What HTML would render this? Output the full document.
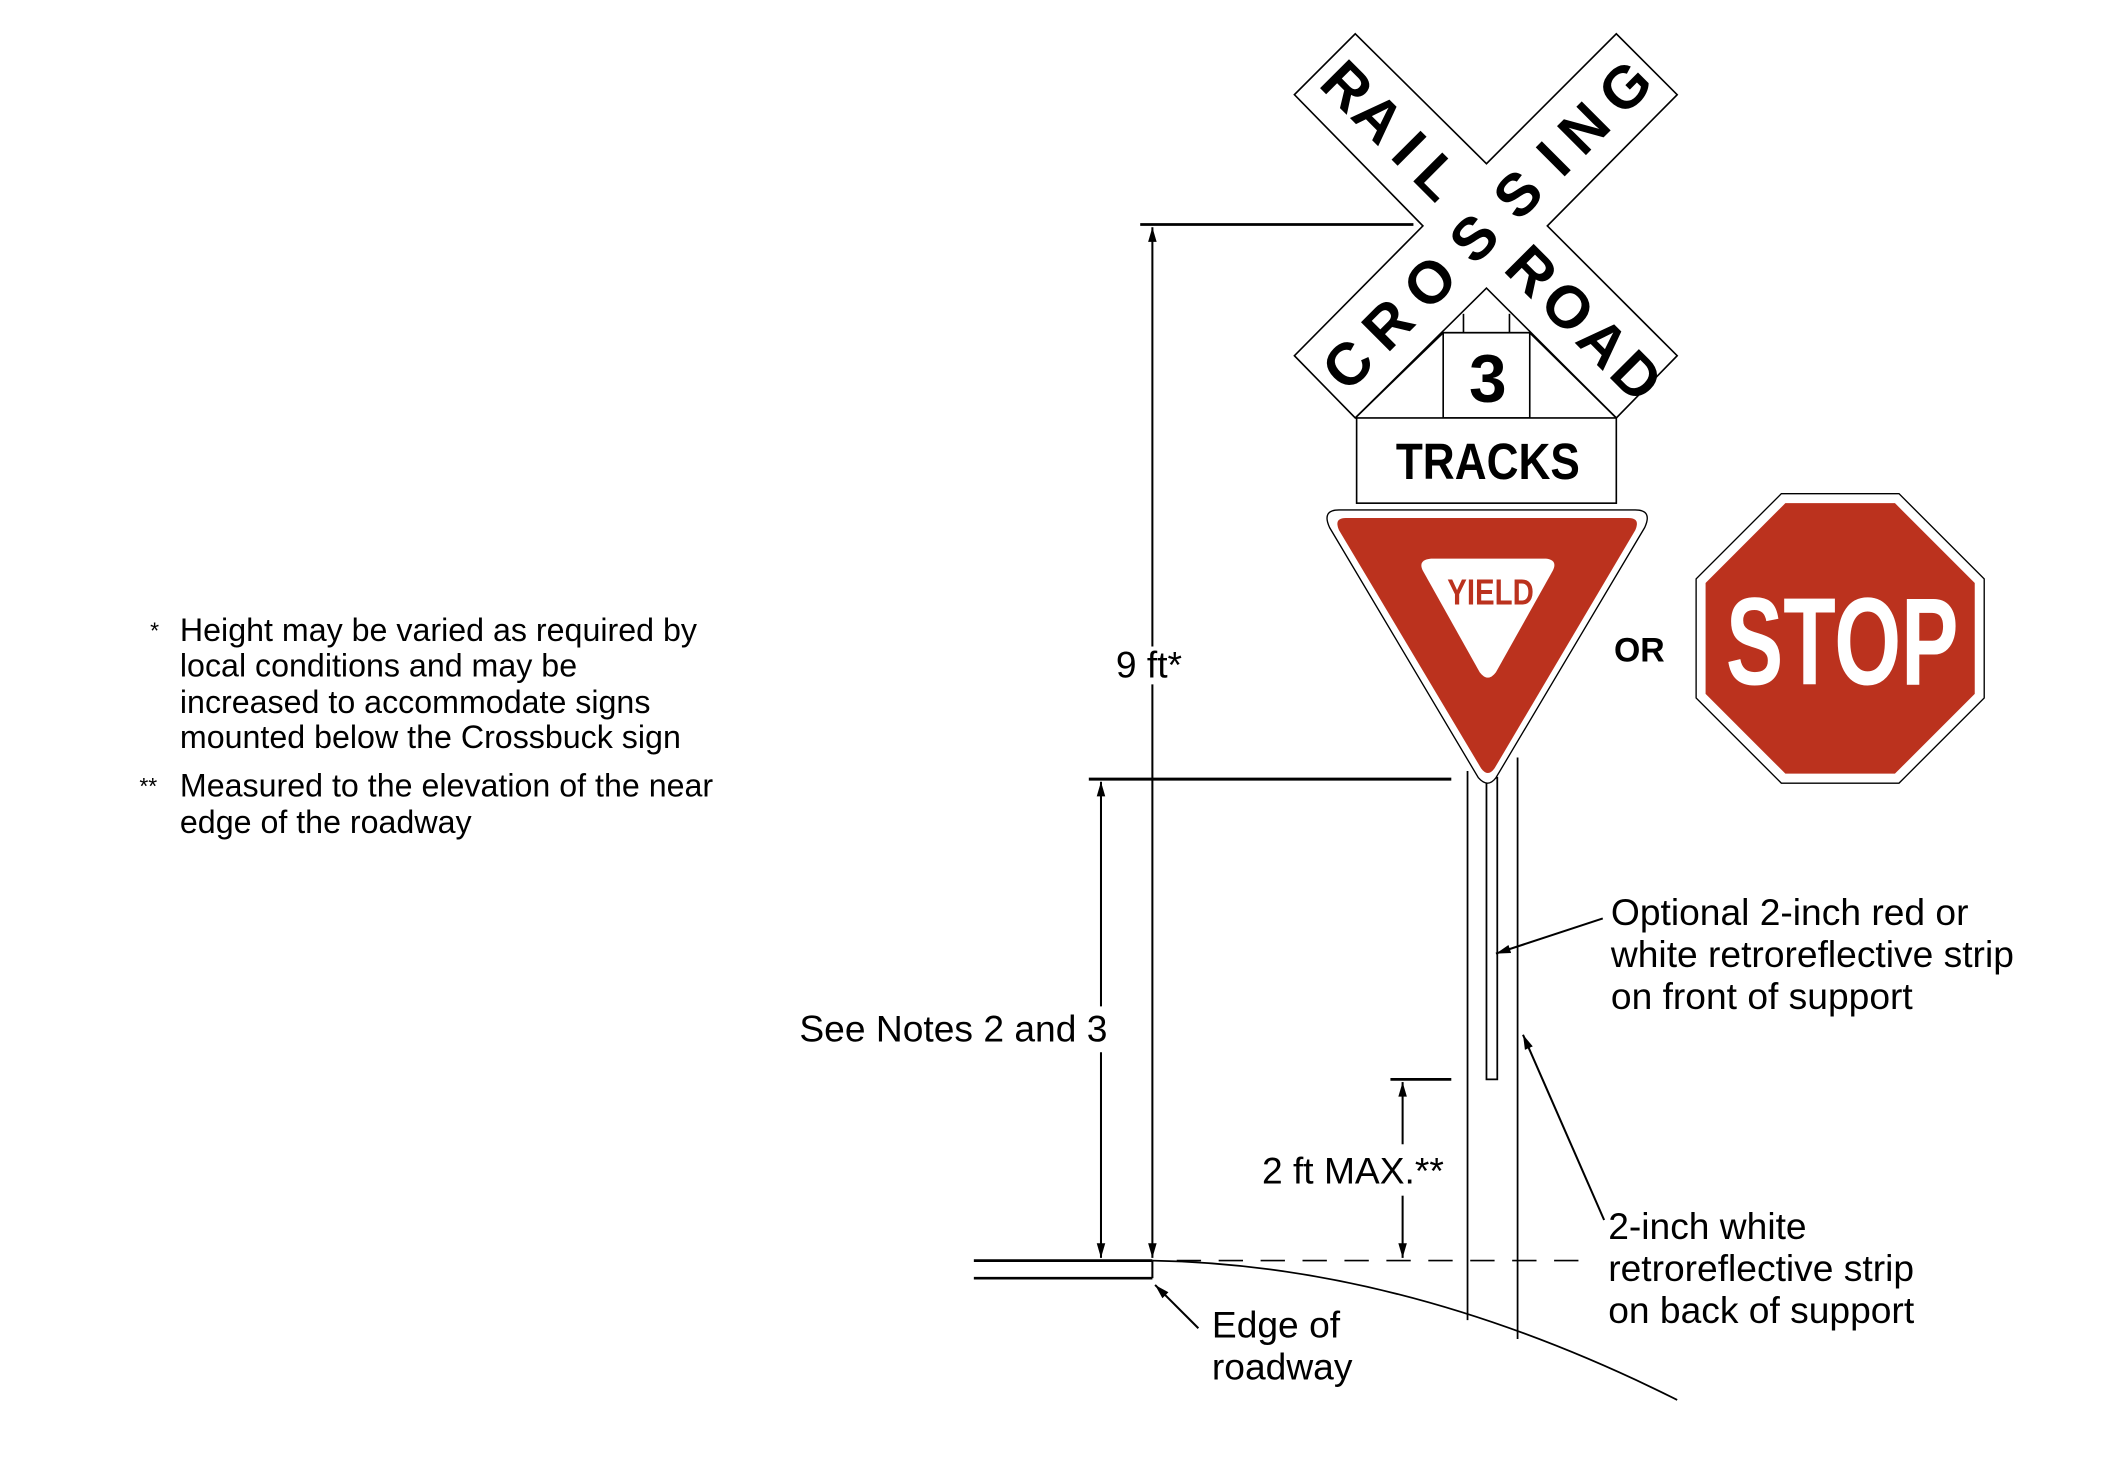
<!DOCTYPE html>
<html><head><meta charset="utf-8"><style>
html,body{margin:0;padding:0;background:#fff;}
svg{display:block;}
text{font-family:"Liberation Sans",sans-serif;}
</style></head><body>
<svg width="2110" height="1480" viewBox="0 0 1560 1094.2" xmlns="http://www.w3.org/2000/svg">
<defs>
<marker id="ar" viewBox="0 0 12 10" refX="12" refY="5" markerWidth="11" markerHeight="9" markerUnits="userSpaceOnUse" orient="auto"><path d="M0,1.5 L12,5 L0,8.5 z" fill="#000"/></marker>
</defs>
<rect width="1560" height="1094.2" fill="#fff"/>

<!-- notes -->
<g font-size="23.8" fill="#000">
<text x="111" y="472" font-size="17">*</text>
<text x="133" y="474">Height may be varied as required by</text>
<text x="133" y="500">local conditions and may be</text>
<text x="133" y="527">increased to accommodate signs</text>
<text x="133" y="553">mounted below the Crossbuck sign</text>
<text x="103" y="587" font-size="17">**</text>
<text x="133" y="589">Measured to the elevation of the near</text>
<text x="133" y="616">edge of the roadway</text>
</g>

<!-- posts -->
<g stroke="#000" stroke-width="1.3" fill="none">
<line x1="1085" y1="570" x2="1085" y2="976"/>
<line x1="1122" y1="560" x2="1122" y2="990"/>
<rect x="1099" y="575" width="8" height="223" fill="#fff"/>
</g>

<!-- crossbuck -->
<polygon points="1002,25 1099,121 1195,25 1240,70 1144,167 1240,263 1195,309 1099,213 1002,309 957,263 1052,167 957,70" fill="#fff" stroke="#000" stroke-width="1.2"/>
<g font-weight="bold" font-size="44" fill="#000" text-anchor="middle">
<g transform="translate(1099,167) rotate(45)">
<text x="-146" y="15">R</text><text x="-113" y="15">A</text><text x="-81" y="15">I</text><text x="-51" y="15">L</text>
<text x="47" y="15">R</text><text x="85" y="15">O</text><text x="122" y="15">A</text><text x="157" y="15">D</text>
</g>
<g transform="translate(1099,167) rotate(-45)">
<text x="-145" y="15">C</text><text x="-103" y="15">R</text><text x="-59" y="15">O</text><text x="-13" y="15">S</text>
<text x="33" y="15">S</text><text x="70" y="15">I</text><text x="102" y="15">N</text><text x="145" y="15">G</text>
</g>
</g>
<!-- small plate support -->
<g stroke="#000" stroke-width="1.2" fill="#fff">
<line x1="1082" y1="232" x2="1082" y2="246"/>
<line x1="1116" y1="232" x2="1116" y2="246"/>
<polyline points="1002,309 1067,246 1131,246 1195,309" fill="none"/>
<rect x="1067" y="246" width="64" height="63"/>
<rect x="1003" y="309" width="192" height="63"/>
</g>
<text x="1100" y="297" font-size="50" font-weight="bold" text-anchor="middle">3</text>
<text x="1100" y="354" font-size="38" font-weight="bold" text-anchor="middle" textLength="136" lengthAdjust="spacingAndGlyphs">TRACKS</text>

<!-- yield -->
<path d="M990,377 L1209,377 Q1222,377 1216,390 L1106,575 Q1100,583 1093,575 L983,390 Q977,377 990,377 z" fill="#fff" stroke="#000" stroke-width="1"/>
<path d="M995,383 L1204,383 Q1213,383 1209,392 L1105,568 Q1100,575 1095,568 L990,392 Q986,383 995,383 z" fill="#bb321e"/>
<path d="M1058,413 L1143,413 Q1152,414 1148,422 L1106,497 Q1100,505 1094,497 L1052,422 Q1048,414 1058,413 z" fill="#fff"/>
<text x="1102" y="447" font-size="27" font-weight="bold" fill="#bb321e" text-anchor="middle" textLength="64" lengthAdjust="spacingAndGlyphs">YIELD</text>

<text x="1212" y="489" font-size="25" font-weight="bold" text-anchor="middle">OR</text>

<!-- stop -->
<polygon points="1317,365 1404,365 1467,428 1467,516 1404,579 1317,579 1254,516 1254,428" fill="#fff" stroke="#000" stroke-width="1"/>
<polygon points="1320,372 1401,372 1460,431 1460,513 1401,572 1320,572 1261,513 1261,431" fill="#bb321e"/>
<text x="1362" y="506" font-size="92" font-weight="bold" fill="#fff" text-anchor="middle" textLength="172" lengthAdjust="spacingAndGlyphs">STOP</text>

<!-- dimension lines -->
<g stroke="#000" fill="none">
<line x1="843" y1="166" x2="1045" y2="166" stroke-width="2"/>
<line x1="852" y1="478" x2="852" y2="168" stroke-width="1.5" marker-end="url(#ar)"/>
<line x1="852" y1="506" x2="852" y2="930" stroke-width="1.5" marker-end="url(#ar)"/>
<line x1="805" y1="576" x2="1073" y2="576" stroke-width="2.2"/>
<line x1="814" y1="744" x2="814" y2="578" stroke-width="1.5" marker-end="url(#ar)"/>
<line x1="814" y1="778" x2="814" y2="930" stroke-width="1.5" marker-end="url(#ar)"/>
<line x1="1028" y1="798" x2="1073" y2="798" stroke-width="2"/>
<line x1="1037" y1="846" x2="1037" y2="800" stroke-width="1.5" marker-end="url(#ar)"/>
<line x1="1037" y1="884" x2="1037" y2="930" stroke-width="1.5" marker-end="url(#ar)"/>
<line x1="720" y1="932" x2="852" y2="932" stroke-width="2"/>
<line x1="720" y1="945" x2="852" y2="945" stroke-width="2"/>
<line x1="852" y1="932" x2="852" y2="945" stroke-width="1.5"/>
<line x1="870" y1="932" x2="1175" y2="932" stroke-width="1.2" stroke-dasharray="18,13"/>
<path d="M852,932 Q1040,935 1240,1035" stroke-width="1.3"/>
<line x1="886" y1="982" x2="854" y2="950" stroke-width="1.5" marker-end="url(#ar)"/>
<line x1="1185" y1="679" x2="1106" y2="705" stroke-width="1.5" marker-end="url(#ar)"/>
<line x1="1186" y1="902" x2="1126" y2="765" stroke-width="1.5" marker-end="url(#ar)"/>
</g>

<!-- labels -->
<g font-size="27.5" fill="#000">
<text x="825" y="501">9 ft*</text>
<text x="591" y="770">See Notes 2 and 3</text>
<text x="933" y="875">2 ft MAX.**</text>
<text x="896" y="989">Edge of</text>
<text x="896" y="1020">roadway</text>
<text x="1191" y="684">Optional 2-inch red or</text>
<text x="1191" y="715">white retroreflective strip</text>
<text x="1191" y="746">on front of support</text>
<text x="1189" y="916">2-inch white</text>
<text x="1189" y="947">retroreflective strip</text>
<text x="1189" y="978">on back of support</text>
</g>
</svg>
</body></html>
